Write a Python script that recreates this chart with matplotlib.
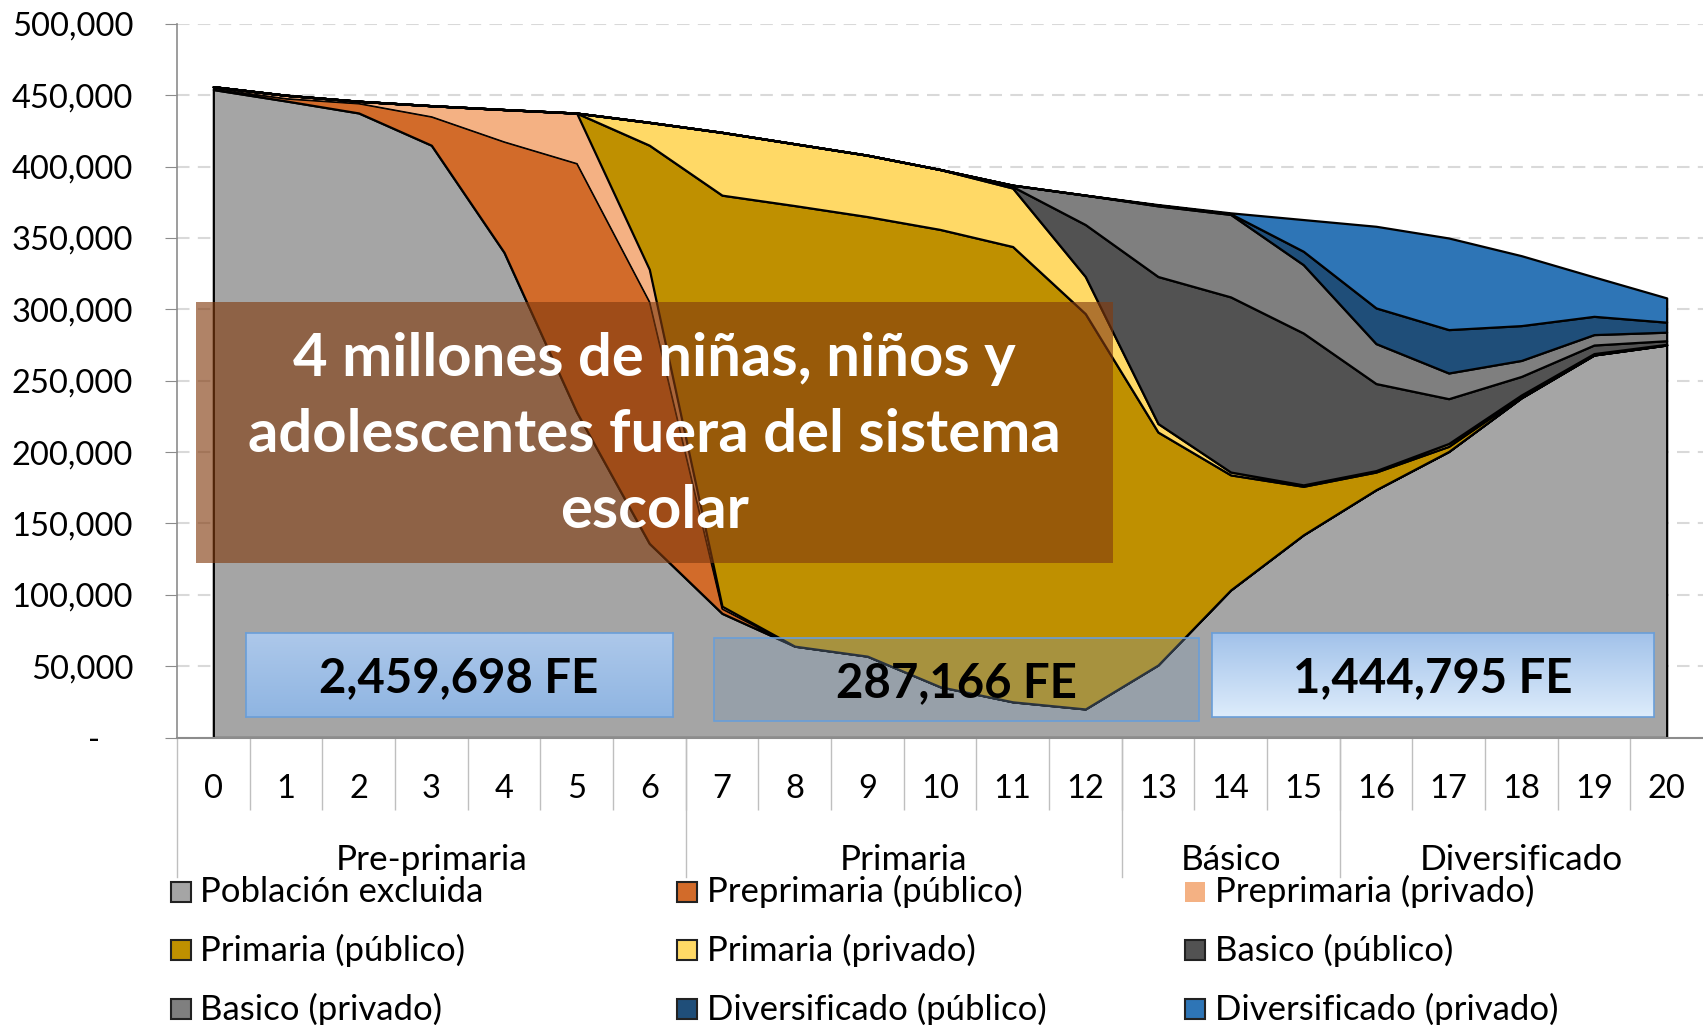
import numpy as np
import matplotlib.pyplot as plt
from matplotlib.patches import Rectangle
from matplotlib.ticker import FuncFormatter

plt.rcParams['font.family'] = ['Lato', 'DejaVu Sans']

W, H = 1703, 1025

# edad simple (0 a 20 años)
edad = list(range(21))

excluida = [454000, 446000, 437600, 415000, 340000, 228000, 136000, 87000, 64000, 57000,
            35600, 25000, 20000, 50800, 103400, 142000, 173600, 200400, 238000, 268000, 275000]
prepri_pub = [1000, 2000, 7000, 20300, 77700, 174500, 169500, 3500, 0, 0,
              0, 0, 0, 0, 0, 0, 0, 0, 0, 0, 0]
prepri_priv = [1000, 2000, 1200, 7400, 22300, 35000, 22500, 1500, 0, 0,
               0, 0, 0, 0, 0, 0, 0, 0, 0, 0, 0]
prim_pub = [0, 0, 0, 0, 0, 0, 87000, 288000, 308700, 308000,
            320400, 319000, 277000, 163200, 80600, 34000, 12400, 3600, 1000, 500, 300]
prim_priv = [0, 0, 0, 0, 0, 0, 16000, 44000, 43300, 43000,
             42000, 41000, 26000, 6000, 2000, 1000, 1000, 2000, 1000, 500, 200]
basico_pub = [0, 0, 0, 0, 0, 0, 0, 0, 0, 0,
              0, 1000, 36400, 103000, 122700, 106400, 61000, 31400, 13000, 6000, 2500]
basico_priv = [0, 0, 0, 0, 0, 0, 0, 0, 0, 0,
               0, 1000, 20600, 49500, 57800, 47900, 28000, 18000, 11200, 7300, 6000]
div_pub = [0, 0, 0, 0, 0, 0, 0, 0, 0, 0,
           0, 0, 0, 500, 500, 9400, 25000, 30400, 24400, 12800, 7000]
div_priv = [0, 0, 0, 0, 0, 0, 0, 0, 0, 0,
            0, 0, 0, 400, 600, 22200, 57200, 64200, 49000, 27600, 17000]

series = [excluida, prepri_pub, prepri_priv, prim_pub, prim_priv,
          basico_pub, basico_priv, div_pub, div_priv]
nombres = ['Población excluida', 'Preprimaria (público)', 'Preprimaria (privado)',
           'Primaria (público)', 'Primaria (privado)', 'Basico (público)',
           'Basico (privado)', 'Diversificado (público)', 'Diversificado (privado)']
colores = ['#A5A5A5', '#D26B2A', '#F4B183', '#BF9000', '#FFD966',
           '#525252', '#7F7F7F', '#1F4E79', '#2E75B6']

niveles = ['Pre-primaria', 'Primaria', 'Básico', 'Diversificado']
nivel_centro = [3, 9.5, 14, 18]
nivel_corte = [-0.5, 6.5, 12.5, 15.5]

totales = ['2,459,698 FE', '287,166 FE', '1,444,795 FE']


def fx(px):
    return px / W


def fy(py):
    return 1 - py / H


fig = plt.figure(figsize=(W / 100, H / 100), dpi=100)
ax = fig.add_axes([fx(177), fy(737.5), 1 - fx(177), (737.5 - 23.9) / H])

polys = ax.stackplot(edad, *series, colors=colores, edgecolor='black', linewidth=1.6, zorder=2)
polys[2].set_linewidth(0.8)

ax.set_xlim(-0.5, 20.5)
ax.set_ylim(0, 500000)
ax.set_yticks(np.arange(0, 500001, 50000))
ax.yaxis.set_major_formatter(FuncFormatter(lambda v, p: '-    ' if v == 0 else f'{int(v):,}'))
ax.grid(axis='y', color='#D9D9D9', linestyle=(0, (6, 4)), linewidth=1.5)
ax.set_axisbelow(True)

for s in ['top', 'right']:
    ax.spines[s].set_visible(False)
ax.spines['left'].set_color('#8C8C8C')
ax.spines['bottom'].set_color('#8C8C8C')
ax.spines['left'].set_linewidth(1.2)
ax.spines['bottom'].set_linewidth(1.5)

ax.tick_params(axis='y', length=8.6, color='#8C8C8C', labelsize=23.5, pad=23)
ax.set_xticks(edad)
ax.set_xticks(np.arange(0.5, 20, 1), minor=True)
ax.tick_params(axis='x', which='major', length=0, labelsize=23.5, pad=26)
ax.tick_params(axis='x', which='minor', length=52, color='#BFBFBF', width=1)

tr = ax.get_xaxis_transform()
for c in nivel_corte:
    ax.plot([c, c], [0, -0.196], transform=tr, color='#BFBFBF', lw=1, clip_on=False)
for n, c in zip(niveles, nivel_centro):
    ax.text(c, -0.172, n, transform=tr, ha='center', va='center', fontsize=25.3)

# recuadro principal
fig.add_artist(Rectangle((fx(195.5), fy(562.6)), fx(1113 - 195.5), (562.6 - 302) / H,
                         transform=fig.transFigure, facecolor='#823B0F', alpha=0.63,
                         edgecolor='none', zorder=5))
fig.text(fx(654), fy(435.5), '4 millones de niñas, niños y\nadolescentes fuera del sistema\nescolar',
         ha='center', va='center', color='white', fontsize=43, fontweight='bold',
         linespacing=1.5, zorder=6)


def caja_gradiente(x0, x1, y0, y1, c_arriba, c_abajo, texto):
    a = fig.add_axes([fx(x0), fy(y1), fx(x1 - x0), (y1 - y0) / H])
    c1 = np.array(plt.matplotlib.colors.to_rgb(c_arriba))
    c2 = np.array(plt.matplotlib.colors.to_rgb(c_abajo))
    t = np.linspace(0, 1, 64)[:, None]
    img = (c1 * (1 - t) + c2 * t)[:, None, :]
    a.imshow(img, aspect='auto', extent=[0, 1, 0, 1])
    a.set_xticks([])
    a.set_yticks([])
    for s in a.spines.values():
        s.set_color('#6A9ED8')
        s.set_linewidth(1.2)
    a.text(0.5, 0.46, texto, ha='center', va='center', fontsize=34, fontweight='bold',
           transform=a.transAxes)


caja_gradiente(245.5, 672.5, 633, 717, '#ADC8EA', '#8FB5E2', totales[0])
caja_gradiente(1212, 1654, 633, 717, '#A2C2EA', '#DDECFB', totales[2])

fig.add_artist(Rectangle((fx(713.5), fy(721)), fx(1199 - 713.5), (721 - 637.5) / H,
                         transform=fig.transFigure, facecolor=(125 / 255, 151 / 255, 179 / 255, 0.35),
                         edgecolor='#6A9ED8', lw=1.2, zorder=5))
fig.text(fx(956), fy(683), totales[1], ha='center', va='center', fontsize=34,
         fontweight='bold', zorder=6)

# leyenda manual en 3 columnas
col_x = [170.5, 676.6, 1185]
fila_y = [891.5, 950, 1009]
for i, (n, c) in enumerate(zip(nombres, colores)):
    r, k = divmod(i, 3)
    x0 = col_x[k]
    yc = fila_y[r]
    fig.add_artist(Rectangle((fx(x0), fy(yc + 10)), fx(20), 20 / H, transform=fig.transFigure,
                             facecolor=c, edgecolor='none' if i == 2 else '#222222', lw=1.5))
    fig.text(fx(x0 + 30), fy(yc), n, ha='left', va='center', fontsize=25)

fig.savefig('out.png', dpi=100)
